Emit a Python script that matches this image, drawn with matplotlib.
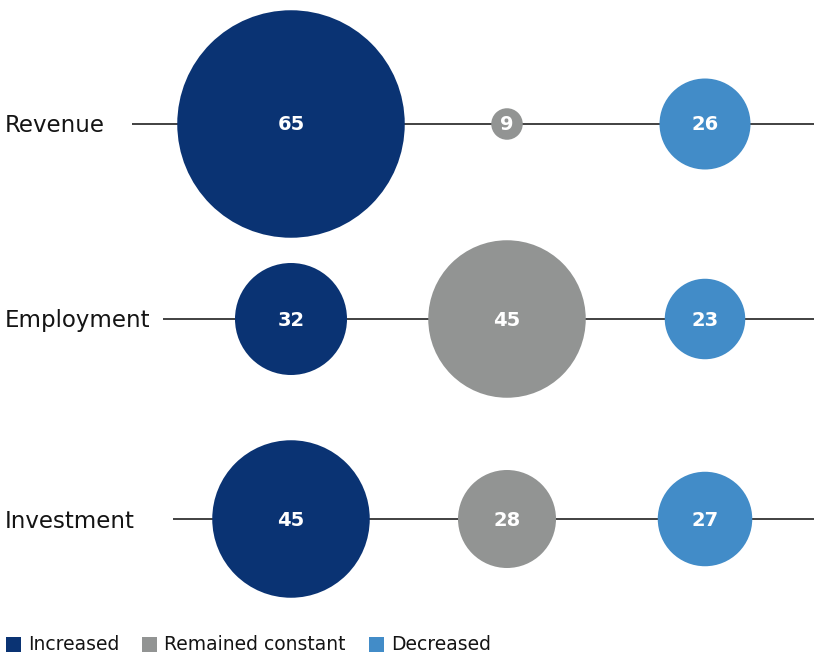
import matplotlib
matplotlib.use("Agg")
import matplotlib.pyplot as plt
from matplotlib.patches import Circle, Rectangle

# Survey outcomes (% of respondents)
indicators = ["Revenue", "Employment", "Investment"]
statuses = ["Increased", "Remained constant", "Decreased"]
increased = [65, 32, 45]
remained_constant = [9, 45, 28]
decreased = [26, 23, 27]

colors = ["#0a3373", "#929493", "#428cc8"]
font = ["DejaVu Sans"]

W, H = 819, 653
fig = plt.figure(figsize=(W / 100, H / 100), dpi=100)
ax = fig.add_axes([0, 0, 1, 1])
ax.set_xlim(0, W)
ax.set_ylim(H, 0)
ax.set_aspect("equal")
ax.axis("off")

# layout (pixel units)
col_x = [291, 507, 705]
row_y = [124, 319, 519]
line_start = [132, 163, 173]
line_end = 814
px_per_unit = 3.5  # circle diameter per percentage point

series = [increased, remained_constant, decreased]
for r, name in enumerate(indicators):
    y = row_y[r]
    ax.text(5, y + 8.5, name, fontsize=16.5, family=font, color="#141414",
            va="baseline", ha="left")
    ax.plot([line_start[r], line_end], [y, y], color="#333333", lw=1.3,
            zorder=1, solid_capstyle="butt")
    for c, vals in enumerate(series):
        v = vals[r]
        ax.add_patch(Circle((col_x[c], y), v * px_per_unit / 2,
                            facecolor=colors[c], edgecolor="none", zorder=2))
        ax.text(col_x[c], y + 6.5, str(v), fontsize=14, family=font,
                fontweight="bold", color="white", ha="center",
                va="baseline", zorder=3)

# legend
leg_x = [6, 142, 369]
for x, label, col in zip(leg_x, statuses, colors):
    ax.add_patch(Rectangle((x, 637), 15, 15, facecolor=col, edgecolor="none",
                           clip_on=False))
    ax.text(x + 22, 649.5, label, fontsize=13.5, family=font, color="#141414",
            va="baseline", ha="left")

fig.savefig("out.png", dpi=100)
